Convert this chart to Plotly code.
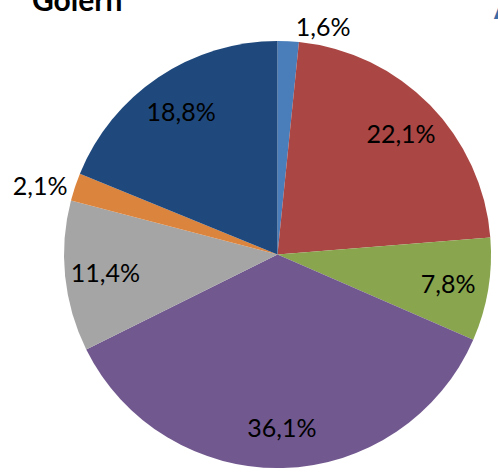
import plotly.graph_objects as go

labels = ["A", "B", "C", "D", "E", "F", "G"]
values = [1.6, 22.1, 7.8, 36.1, 11.4, 2.1, 18.8]
colors = ["#4A7EBB", "#AA4643", "#89A54E", "#71588F", "#A5A5A5", "#DB843D", "#1F497D"]
outside = [True, False, False, False, False, True, False]

font = dict(family="Lato", size=25, color="black")

# base pie: colored slices + outside labels for the small slices
fig = go.Figure(go.Pie(
    labels=labels,
    values=values,
    sort=False,
    direction="clockwise",
    rotation=0,
    marker=dict(colors=colors, line=dict(width=0)),
    texttemplate=["%{value:.1f}%" if o else "" for o in outside],
    textposition=["outside" if o else "none" for o in outside],
    textfont=font,
    showlegend=False,
    hoverinfo="skip",
))
# transparent ring carrying the inside labels further out
fig.add_trace(go.Pie(
    labels=labels,
    values=values,
    sort=False,
    direction="clockwise",
    rotation=0,
    hole=0.62,
    marker=dict(colors=["rgba(0,0,0,0)"] * len(values), line=dict(width=0)),
    texttemplate=["" if o else "%{value:.1f}%" for o in outside],
    textposition=["none" if o else "inside" for o in outside],
    insidetextorientation="horizontal",
    textfont=font,
    showlegend=False,
    hoverinfo="skip",
))

fig.add_annotation(text="<b>Golern</b>", xref="paper", yref="paper", x=-0.078, y=1.0,
                   xanchor="left", yanchor="bottom", yshift=22, showarrow=False,
                   font=dict(family="Lato", size=30, color="black"))
fig.add_annotation(text="<b>A</b>", xref="paper", yref="paper", x=0.997, y=1.0,
                   xanchor="left", yanchor="bottom", yshift=14, showarrow=False,
                   font=dict(family="Lato", size=30, color="#3C6CA8"))

fig.update_layout(
    width=498, height=473,
    margin=dict(l=63, r=1, t=41, b=0),
    paper_bgcolor="white",
    plot_bgcolor="white",
    separators=", ",
    uniformtext=dict(minsize=25, mode="show"),
)
fig.write_html("out.html", config={"displayModeBar": False},
               post_script="document.body.style.margin='0px';")
